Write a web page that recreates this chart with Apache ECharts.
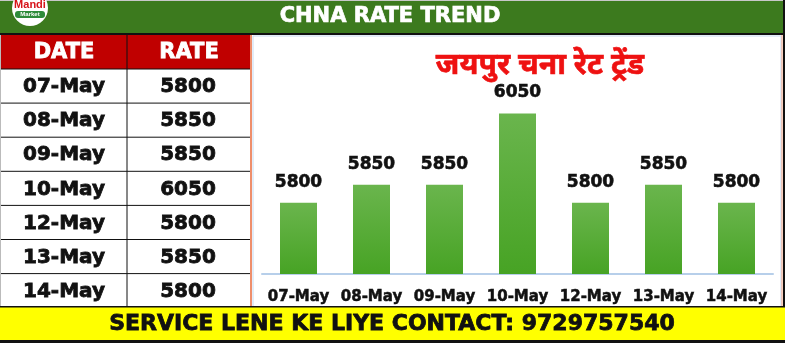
<!DOCTYPE html>
<html><head><meta charset="utf-8">
<script src="https://cdn.jsdelivr.net/npm/echarts@6/dist/echarts.min.js"></script>
<style>html,body{margin:0;padding:0;background:#fff}#c{width:785px;height:343px}</style>
</head><body><div id="c"></div>
<script>
const dates = ['07-May','08-May','09-May','10-May','12-May','13-May','14-May'];
const rates = [5800,5850,5850,6050,5800,5850,5800];
const headerTitle = 'CHNA RATE TREND';
const chartTitle = 'जयपुर चना रेट ट्रेंड';
const tableHeads = ['DATE','RATE'];
const footerText = 'SERVICE LENE KE LIYE CONTACT: 9729757540';

const F = '"DejaVu Sans", "Liberation Sans", Arial, sans-serif';
const FL = '"Liberation Sans", Arial, sans-serif';
const chart = echarts.init(document.getElementById('c'), null, {renderer:'canvas'});

const rowTop = 69, rowH = 34.1;
const g = [];
g.push({type:'rect', z:-5, shape:{x:0,y:0,width:785,height:343}, style:{fill:'#ffffff'}});
g.push({type:'rect', z:1, shape:{x:0,y:0,width:785,height:34}, style:{fill:'#3c7a1e'}});
g.push({type:'rect', z:1, shape:{x:0,y:0,width:785,height:1}, style:{fill:'#c8c8c8'}});
g.push({type:'rect', z:1, shape:{x:0,y:33,width:785,height:2}, style:{fill:'#111'}});
g.push({type:'text', z:2, style:{text:headerTitle, x:390, y:17, fill:'#fff', stroke:'#fff', lineWidth:0.7, font:'bold 21px '+F, textAlign:'center', textVerticalAlign:'middle'}});
// logo
g.push({type:'circle', z:3, shape:{cx:30,cy:8,r:18}, style:{fill:'#ffffff'}});
g.push({type:'text', z:4, style:{text:'Mandi', x:30, y:5, fill:'#d7141a', font:'bold 11px '+FL, textAlign:'center', textVerticalAlign:'middle'}});
g.push({type:'rect', z:4, shape:{x:15,y:11,width:30,height:7,r:3}, style:{fill:'#2e8b3a'}});
g.push({type:'text', z:5, style:{text:'Market', x:30, y:14.5, fill:'#fff', font:'bold 6px '+FL, textAlign:'center', textVerticalAlign:'middle'}});
// table header
g.push({type:'rect', z:1, shape:{x:0,y:35,width:250,height:34}, style:{fill:'#c00000'}});
g.push({type:'text', z:2, style:{text:tableHeads[0], x:64, y:53, fill:'#fff', stroke:'#fff', lineWidth:0.8, font:'bold 21px '+F, textAlign:'center', textVerticalAlign:'middle'}});
g.push({type:'text', z:2, style:{text:tableHeads[1], x:189, y:53, fill:'#fff', stroke:'#fff', lineWidth:0.8, font:'bold 21px '+F, textAlign:'center', textVerticalAlign:'middle'}});
// table rows
dates.forEach((d,i)=>{
  const y0 = rowTop + i*rowH;
  g.push({type:'line', z:2, shape:{x1:0,y1:y0,x2:250,y2:y0}, style:{stroke:'#111', lineWidth:1}});
  g.push({type:'text', z:2, style:{text:d, x:64, y:y0+rowH/2+1, fill:'#111', stroke:'#111', lineWidth:0.8, font:'bold 20px '+F, textAlign:'center', textVerticalAlign:'middle'}});
  g.push({type:'text', z:2, style:{text:String(rates[i]), x:188, y:y0+rowH/2+1, fill:'#111', stroke:'#111', lineWidth:0.8, font:'bold 20px '+F, textAlign:'center', textVerticalAlign:'middle'}});
});
g.push({type:'line', z:2, shape:{x1:127,y1:35,x2:127,y2:308}, style:{stroke:'#111', lineWidth:1}});
g.push({type:'line', z:2, shape:{x1:0.5,y1:35,x2:0.5,y2:308}, style:{stroke:'#bbb', lineWidth:1}});
// chart panel
g.push({type:'rect', z:0, shape:{x:253,y:36,width:528,height:272}, style:{fill:'#fff', stroke:'#c6d9f0', lineWidth:1}});
g.push({type:'line', z:2, shape:{x1:251,y1:35,x2:251,y2:308}, style:{stroke:'#e8683a', lineWidth:1.5}});
g.push({type:'line', z:2, shape:{x1:782,y1:35,x2:782,y2:308}, style:{stroke:'#f0a080', lineWidth:1}});
g.push({type:'rect', z:2, shape:{x:783,y:0,width:2,height:343}, style:{fill:'#111'}});
g.push({type:'text', z:3, style:{text:chartTitle, x:540, y:68, fill:'#ee1111', stroke:'#ee1111', lineWidth:0.6, font:'bold 30px "Noto Sans Devanagari","Lohit Devanagari","FreeSans","Noto Sans",sans-serif', textAlign:'center', textVerticalAlign:'middle'}});
// footer
g.push({type:'rect', z:100, shape:{x:0,y:307,width:785,height:34}, style:{fill:'#ffff00'}});
g.push({type:'rect', z:100, shape:{x:0,y:306,width:785,height:1.5}, style:{fill:'#111'}});
g.push({type:'rect', z:100, shape:{x:0,y:340,width:785,height:3}, style:{fill:'#111'}});
g.push({type:'text', z:101, style:{text:footerText, x:392, y:324, fill:'#111', stroke:'#111', lineWidth:0.8, font:'bold 22px '+F, textAlign:'center', textVerticalAlign:'middle'}});

chart.setOption({
  animation:false,
  graphic:{elements:g},
  grid:{left:262, right:12, top:60, bottom:69, containLabel:false},
  xAxis:{type:'category', data:dates, z:5,
    axisLine:{lineStyle:{color:'#b7cfea', width:2}}, axisTick:{show:false},
    axisLabel:{color:'#111', fontWeight:'bold', fontSize:15, fontFamily:F, margin:16, interval:0, textBorderColor:'#111', textBorderWidth:0.5}},
  yAxis:{type:'value', min:5600, max:6200, show:false, splitLine:{show:false}},
  series:[{type:'bar', data:rates, barWidth:37, z:5,
    itemStyle:{color:new echarts.graphic.LinearGradient(0,0,0,1,[{offset:0,color:'#6ab54d'},{offset:1,color:'#47a324'}])},
    label:{show:true, position:'top', distance:12, color:'#111', fontWeight:'bold', fontSize:17, fontFamily:F, textBorderColor:'#111', textBorderWidth:0.6}}]
});
</script></body></html>
